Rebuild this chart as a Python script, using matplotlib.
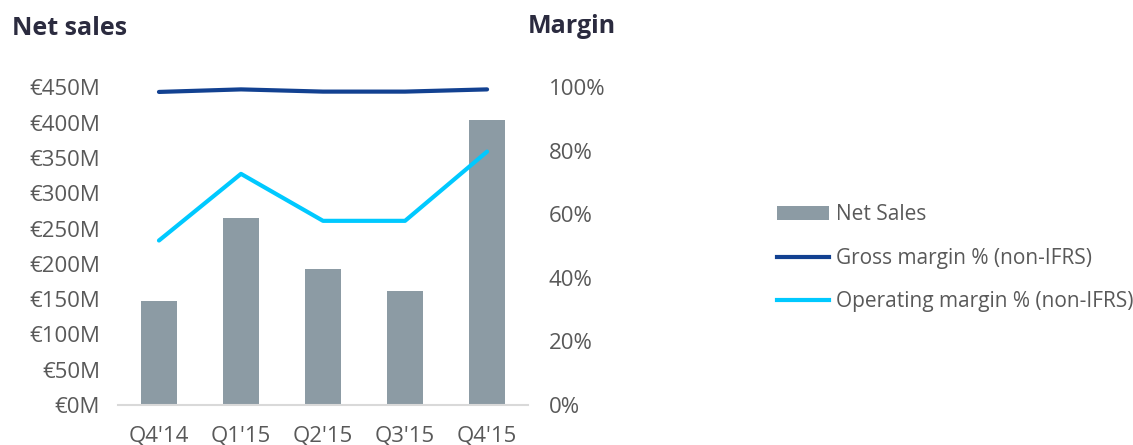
import matplotlib

matplotlib.use("Agg")
import matplotlib.pyplot as plt  # noqa: E402
from matplotlib.patches import Patch  # noqa: E402
from matplotlib.lines import Line2D  # noqa: E402

plt.rcParams["font.family"] = ["Open Sans", "DejaVu Sans"]

# ---------------- data ----------------
quarters = ["Q4'14", "Q1'15", "Q2'15", "Q3'15", "Q4'15"]
net_sales = [147, 265, 193, 162, 404]           # EUR million
gross_margin = [98.6, 99.4, 98.7, 98.7, 99.4]    # %
operating_margin = [51.8, 72.8, 58.0, 58.0, 79.8]  # %
sales_ticks = [0, 50, 100, 150, 200, 250, 300, 350, 400, 450]
margin_ticks = [0, 20, 40, 60, 80, 100]

BAR = "#8c9ba4"
GROSS = "#124191"
OPER = "#00c9ff"
TICK = "#595959"
TITLE = "#2b2b3f"

fig = plt.figure(figsize=(11.33, 4.45), dpi=100)
ax = fig.add_axes([0.1041, 0.0899, 0.362, 0.7135])
x = range(len(quarters))
ax.bar(x, net_sales, width=0.43, color=BAR, zorder=2)
ax.set_xlim(-0.5, len(quarters) - 0.5)
ax.set_ylim(0, 450)
ax.set_yticks(sales_ticks)
ax.set_yticklabels([f"€{v}M" for v in sales_ticks])
ax.set_xticks(list(x))
ax.set_xticklabels(quarters)

ax2 = ax.twinx()
ax2.plot(x, gross_margin, color=GROSS, lw=3, solid_capstyle="round", zorder=3)
ax2.plot(x, operating_margin, color=OPER, lw=3, solid_capstyle="round", zorder=3)
ax2.set_ylim(0, 100)
ax2.set_yticks(margin_ticks)
ax2.set_yticklabels([f"{v}%" for v in margin_ticks])

for a in (ax, ax2):
    for s in a.spines.values():
        s.set_visible(False)
    a.tick_params(length=0, labelsize=16, colors=TICK)
ax.spines["bottom"].set_visible(True)
ax.spines["bottom"].set_color("#d9d9d9")
ax.spines["bottom"].set_linewidth(1.5)
ax.tick_params(axis="y", pad=13)
ax.tick_params(axis="x", pad=15)
ax2.tick_params(axis="y", pad=15)

fig.text(0.011, 0.935, "Net sales", fontsize=18, fontweight="bold", color=TITLE, va="center")
fig.text(0.466, 0.94, "Margin", fontsize=18, fontweight="bold", color=TITLE, va="center")

handles = [
    Patch(facecolor=BAR, label="Net Sales"),
    Line2D([], [], color=GROSS, lw=3, label="Gross margin % (non-IFRS)"),
    Line2D([], [], color=OPER, lw=3, label="Operating margin % (non-IFRS)"),
]
leg = fig.legend(handles=handles, loc="center left", bbox_to_anchor=(0.686, 0.42),
                 frameon=False, fontsize=15, borderaxespad=0, borderpad=0,
                 handlelength=2.5, handleheight=0.6, handletextpad=0.33,
                 labelspacing=1.07)
for t in leg.get_texts():
    t.set_color(TICK)

fig.savefig("out.png", dpi=100)
